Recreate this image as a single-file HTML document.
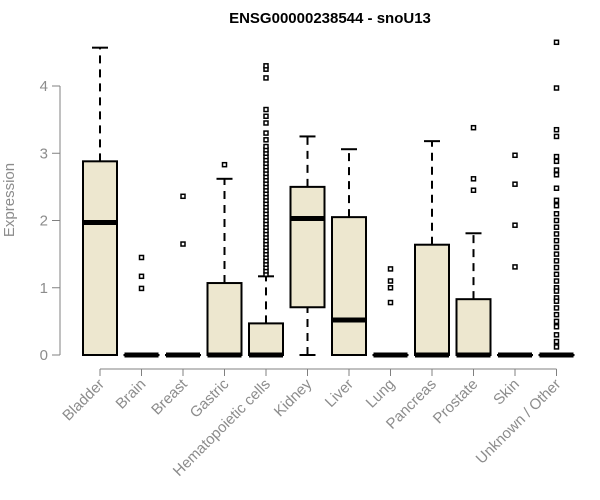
<!DOCTYPE html>
<html><head><meta charset="utf-8"><style>
body{margin:0;background:#fff;}
svg{display:block;font-family:"Liberation Sans",Arial,sans-serif;}
</style></head><body>
<svg id="c" width="600" height="500">
<text x="330" y="23" text-anchor="middle" font-weight="bold" font-size="15">ENSG00000238544 - snoU13</text>
<text x="14" y="200" transform="rotate(-90 14 200)" text-anchor="middle" font-size="15" fill="#8c8c8c">Expression</text>
<g id="yaxis"></g>
<g id="boxes"></g>
<g id="xlabels"></g>
</svg>
<script>
const categories=["Bladder","Brain","Breast","Gastric","Hematopoietic cells","Kidney","Liver","Lung","Pancreas","Prostate","Skin","Unknown / Other"];
const q1=[0,0,0,0,0,0.71,0,0,0,0,0,0];
const med=[1.97,0,0,0,0,2.03,0.52,0,0,0,0,0];
const q3=[2.88,0,0,1.07,0.47,2.5,2.05,0,1.64,0.83,0,0];
const whiskLo=[0,0,0,0,0,0,0,0,0,0,0,0];
const whiskHi=[4.57,0,0,2.62,1.17,3.25,3.06,0,3.18,1.81,0,0];
const outliers=[[],[1.45,1.17,0.99],[2.36,1.65],[2.83],
[1.2,1.25,1.3,1.35,1.4,1.45,1.5,1.55,1.6,1.65,1.7,1.75,1.8,1.85,1.9,1.95,2.0,2.05,2.1,2.15,2.2,2.25,2.3,2.35,2.4,2.45,2.5,2.55,2.6,2.65,2.7,2.75,2.8,2.85,2.9,2.95,3.0,3.05,3.1,3.2,3.3,3.45,3.55,3.65,4.12,4.25,4.3],
[],[],[1.28,1.1,1.0,0.78],[],[3.38,2.62,2.45],[2.97,2.54,1.93,1.31],
[4.65,3.97,3.35,3.25,2.95,2.88,2.75,2.68,2.48,2.3,2.22,2.1,2.0,1.9,1.8,1.7,1.6,1.5,1.4,1.3,1.2,1.1,1.0,0.95,0.85,0.8,0.7,0.6,0.5,0.42,0.3,0.2,0.12]];
const yTicks=[0,1,2,3,4];
const NS="http://www.w3.org/2000/svg";
const y=v=>355-v*67.25;
const x=i=>100+i*41.5;
function mk(t,a,p){const e=document.createElementNS(NS,t);for(const k in a)e.setAttribute(k,a[k]);p.appendChild(e);return e;}
const ya=document.getElementById('yaxis');
mk('line',{x1:60,x2:60,y1:y(4),y2:y(0),stroke:'#808080'},ya);
yTicks.forEach(t=>{
 mk('line',{x1:52,x2:60,y1:y(t),y2:y(t),stroke:'#808080'},ya);
 const tx=mk('text',{x:48,y:y(t)+5,'text-anchor':'end','font-size':15,fill:'#8c8c8c'},ya);
 
 
 tx.textContent=t;
});
const bx=document.getElementById('boxes'),xl=document.getElementById('xlabels');
categories.forEach((c,i)=>{
 const cx=x(i),w=17;
 const g=mk('g',{},bx);
 
 
 if(whiskHi[i]>q3[i]){
  mk('line',{x1:cx,x2:cx,y1:y(q3[i]),y2:y(whiskHi[i]),stroke:'#000','stroke-width':2,'stroke-dasharray':'8,6'},g);
  mk('line',{x1:cx-8,x2:cx+8,y1:y(whiskHi[i]),y2:y(whiskHi[i]),stroke:'#000','stroke-width':2},g);
 }
 if(q1[i]>whiskLo[i]){
  mk('line',{x1:cx,x2:cx,y1:y(whiskLo[i]),y2:y(q1[i]),stroke:'#000','stroke-width':2,'stroke-dasharray':'8,6'},g);
  mk('line',{x1:cx-8,x2:cx+8,y1:y(whiskLo[i]),y2:y(whiskLo[i]),stroke:'#000','stroke-width':2},g);
 }
 mk('rect',{x:cx-w,y:y(q3[i]),width:2*w,height:Math.max(y(q1[i])-y(q3[i]),0.1),fill:'#ede7cf',stroke:'#000','stroke-width':2},g);
 mk('line',{x1:cx-w,x2:cx+w,y1:y(med[i]),y2:y(med[i]),stroke:'#000','stroke-width':5},g);
 outliers[i].forEach(v=>{
  const p=mk('rect',{x:cx-2,y:y(v)-2,width:4,height:4,fill:'#fff',stroke:'#000','stroke-width':1.5},g);
  
  
 });
 mk('line',{x1:cx,x2:cx,y1:369,y2:376,stroke:'#808080'},xl);
 const t=mk('text',{x:cx+5,y:385,'text-anchor':'end','font-size':15,fill:'#8c8c8c',transform:`rotate(-45 ${cx+5} 385)`},xl);
 
 
 t.textContent=c;
});
mk('line',{x1:x(0),x2:x(11),y1:369,y2:369,stroke:'#808080'},xl);
</script>
</body></html>
